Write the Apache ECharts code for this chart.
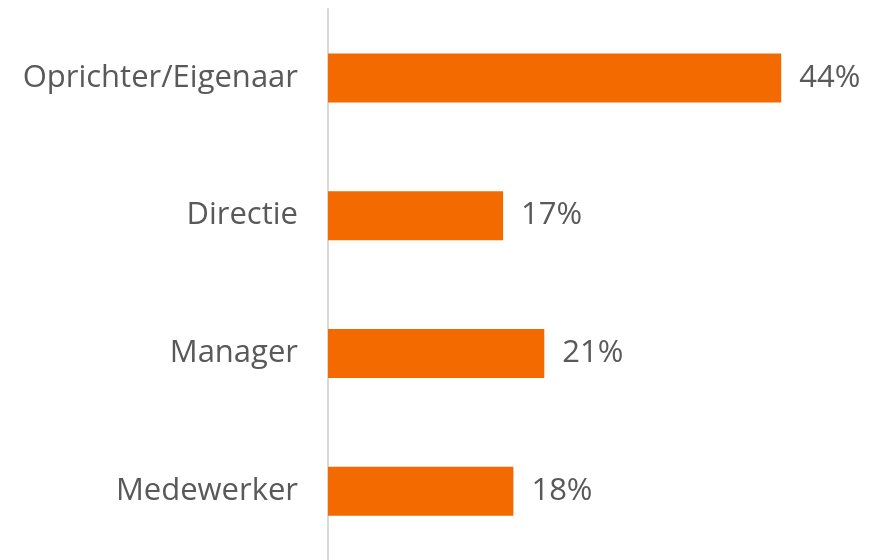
<!DOCTYPE html>
<html>
<head>
<meta charset="utf-8">
<script src="https://cdn.jsdelivr.net/npm/echarts@6/dist/echarts.min.js"></script>
<style>
  html, body { margin: 0; padding: 0; background: #fff; }
  #chart { width: 869px; height: 560px; }
</style>
</head>
<body>
<div id="chart"></div>
<script>
// categories, top to bottom
const categories = ['Oprichter/Eigenaar', 'Directie', 'Manager', 'Medewerker'];
// share in percent
const values = [44, 17, 21, 18];

const chart = echarts.init(document.getElementById('chart'));

const option = {
  backgroundColor: '#ffffff',
  animation: false,
  grid: {
    left: 328,
    top: 9,
    width: 515,
    height: 556
  },
  xAxis: {
    type: 'value',
    min: 0,
    max: 50,
    show: false
  },
  yAxis: {
    type: 'category',
    data: categories,
    inverse: true,
    axisLine: {
      show: true,
      lineStyle: { color: '#d9d9d9', width: 2 }
    },
    axisTick: { show: false },
    axisLabel: {
      color: '#595959',
      fontFamily: 'Open Sans',
      fontSize: 31,
      margin: 30,
      padding: [4, 0, 0, 0]
    }
  },
  series: [{
    type: 'bar',
    data: values,
    barWidth: 49,
    itemStyle: { color: '#f26a00' },
    label: {
      show: true,
      position: 'right',
      distance: 18,
      formatter: '{c}%',
      color: '#595959',
      fontFamily: 'Open Sans',
      fontSize: 31,
      padding: [4, 0, 0, 0]
    }
  }]
};

chart.setOption(option);
</script>
</body>
</html>
